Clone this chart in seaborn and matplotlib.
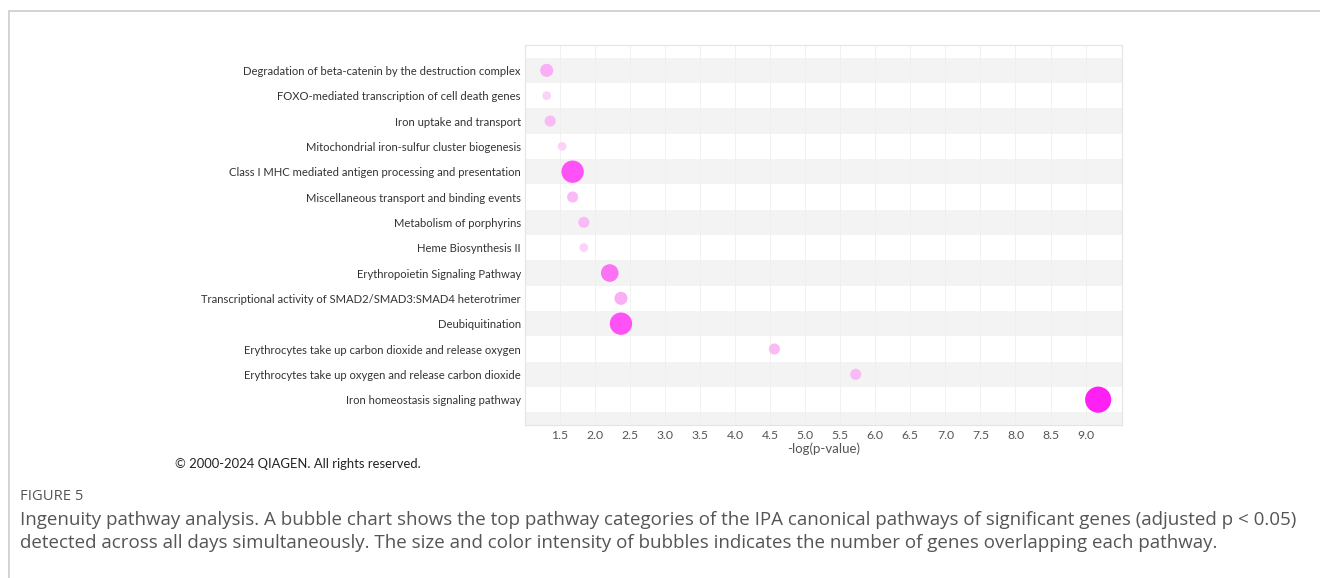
import numpy as np
import pandas as pd
import matplotlib
matplotlib.use('Agg')
import matplotlib.pyplot as plt
import seaborn as sns

# Pathways (top to bottom), -log(p-value) and number of overlapping genes
pathways = [
    'Degradation of beta-catenin by the destruction complex',
    'FOXO-mediated transcription of cell death genes',
    'Iron uptake and transport',
    'Mitochondrial iron-sulfur cluster biogenesis',
    'Class I MHC mediated antigen processing and presentation',
    'Miscellaneous transport and binding events',
    'Metabolism of porphyrins',
    'Heme Biosynthesis II',
    'Erythropoietin Signaling Pathway',
    'Transcriptional activity of SMAD2/SMAD3:SMAD4 heterotrimer',
    'Deubiquitination',
    'Erythrocytes take up carbon dioxide and release oxygen',
    'Erythrocytes take up oxygen and release carbon dioxide',
    'Iron homeostasis signaling pathway',
]
neg_log_p = [1.31, 1.31, 1.36, 1.53, 1.68, 1.68, 1.84, 1.84, 2.21, 2.37, 2.37, 4.56, 5.72, 9.18]
n_genes = [4, 2, 3, 2, 11, 3, 3, 2, 7, 4, 11, 3, 3, 15]
x_ticks = [1.5, 2.0, 2.5, 3.0, 3.5, 4.0, 4.5, 5.0, 5.5, 6.0, 6.5, 7.0, 7.5, 8.0, 8.5, 9.0]

df = pd.DataFrame({'pathway': pathways, 'p': neg_log_p, 'genes': n_genes})

gene_colors = {2: '#fbd2f8', 3: '#fabaf6', 4: '#f9aef5', 7: '#fc72f5', 11: '#ff52f6', 15: '#ff20f4'}

sns.set_style('white')
plt.rcParams['font.family'] = ['Lato', 'DejaVu Sans']

fig = plt.figure(figsize=(13.2, 5.78), dpi=100)
ax = fig.add_axes([0.3977, 0.2647, 0.4523, 0.6574])

# alternating row bands
for k in range(-1, len(pathways) + 1):
    if k % 2 == 0:
        ax.axhspan(k - 0.5, k + 0.5, color='#f3f3f3', lw=0, zorder=0)

for t in x_ticks:
    ax.axvline(t, color='#efefef', lw=0.6, zorder=0.5)

sns.scatterplot(data=df, x='p', y='pathway', hue='genes', size='genes',
                palette=gene_colors, sizes=(40, 355), size_norm=(2, 15),
                linewidth=0, alpha=1, legend=False, ax=ax, zorder=3)

ax.set_xlim(1.0, 9.52)
ax.set_ylim(14, -1)
ax.set_xticks(x_ticks)
ax.set_xticklabels([f'{t:.1f}' for t in x_ticks])
ax.tick_params(axis='x', length=0, labelsize=8.8, labelcolor='#555555', pad=3.5)
ax.tick_params(axis='y', length=0, labelsize=8.1, labelcolor='#333333', pad=3)
ax.set_xlabel('-log(p-value)', fontsize=9.5, color='#555555', labelpad=1.5)
ax.set_ylabel('')
for s in ax.spines.values():
    s.set_color('#e4e4e4')
    s.set_linewidth(0.8)

fig.text(175 / 1320, 1 - 464 / 578, '\u00a9 2000-2024 QIAGEN. All rights reserved.',
         fontsize=9.4, color='#222222', va='center')

# page frame
fig.add_artist(plt.Line2D([9 / 1320, 1], [1 - 11 / 578, 1 - 11 / 578], color='#cccccc', lw=1.2))
fig.add_artist(plt.Line2D([9 / 1320, 9 / 1320], [0, 1 - 11 / 578], color='#cccccc', lw=1.2))

cap_font = ['Open Sans', 'DejaVu Sans']
fig.text(20 / 1320, 1 - 497 / 578, 'FIGURE 5', fontsize=10.6, color='#555555', va='center', family=cap_font)
fig.text(20 / 1320, 1 - 520 / 578,
         'Ingenuity pathway analysis. A bubble chart shows the top pathway categories of the IPA canonical '
         'pathways of significant genes (adjusted p < 0.05)',
         fontsize=13.5, color='#555555', va='center', family=cap_font)
fig.text(20 / 1320, 1 - 543 / 578,
         'detected across all days simultaneously. The size and color intensity of bubbles indicates the '
         'number of genes overlapping each pathway.',
         fontsize=13.5, color='#555555', va='center', family=cap_font)

fig.savefig('out.png', dpi=100)
